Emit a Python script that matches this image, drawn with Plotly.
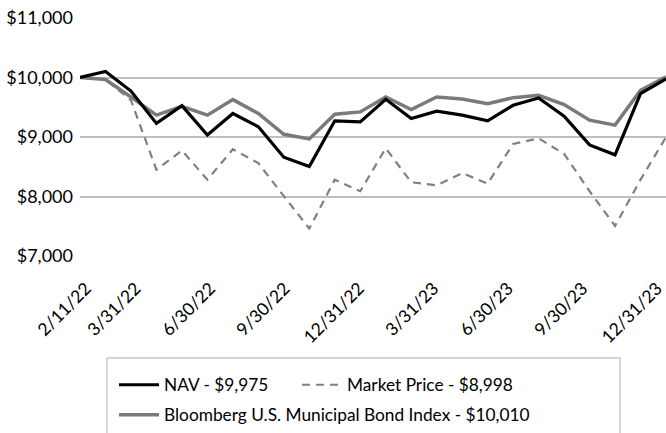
import plotly.graph_objects as go

dates = ["2/11/22", "2/28/22", "3/31/22", "4/30/22", "5/31/22", "6/30/22", "7/31/22",
         "8/31/22", "9/30/22", "10/31/22", "11/30/22", "12/31/22", "1/31/23", "2/28/23",
         "3/31/23", "4/30/23", "5/31/23", "6/30/23", "7/31/23", "8/31/23", "9/30/23",
         "10/31/23", "11/30/23", "12/31/23"]

nav = [10000, 10100, 9772, 9228, 9528, 9033, 9395, 9172, 8661, 8505, 9272, 9255,
       9633, 9311, 9433, 9367, 9272, 9533, 9655, 9350, 8867, 8700, 9728, 9975]

market = [10000, 9967, 9617, 8450, 8772, 8283, 8794, 8561, 8006, 7461, 8283, 8089,
          8811, 8239, 8189, 8394, 8217, 8883, 8978, 8717, 8089, 7506, 8283, 8998]

bloomberg = [10000, 9967, 9672, 9367, 9517, 9367, 9628, 9395, 9045, 8967, 9383, 9422,
             9672, 9461, 9672, 9639, 9561, 9661, 9700, 9544, 9283, 9200, 9783, 10010]

tick_labels = ["2/11/22", "3/31/22", "6/30/22", "9/30/22", "12/31/22", "3/31/23",
               "6/30/23", "9/30/23", "12/31/23"]

names = ["NAV - $9,975", "Market Price - $8,998", "Bloomberg U.S. Municipal Bond Index - $10,010"]

FONT = "Lato, Open Sans, sans-serif"

fig = go.Figure()
fig.add_trace(go.Scatter(x=dates, y=market, mode="lines", name=names[1],
                         line=dict(color="#808080", width=2.2, dash="8px,6px"),
                         legend="legend2", showlegend=True))
fig.add_trace(go.Scatter(x=dates, y=bloomberg, mode="lines", name=names[2],
                         line=dict(color="#7a7a7a", width=3.5),
                         legend="legend3", showlegend=True))
fig.add_trace(go.Scatter(x=dates, y=nav, mode="lines", name=names[0],
                         line=dict(color="#000000", width=3.2),
                         legend="legend", showlegend=True))
# empty helper trace so the label axis is rendered
fig.add_trace(go.Scatter(x=[], y=[], xaxis="x2", yaxis="y", showlegend=False,
                         hoverinfo="skip"))

W, H = 666, 433
ml, mr, mt, mb = 80, 0, 18, 177
pw = W - ml - mr
ph = H - mt - mb

def px_to_paper_x(px):
    return (px - ml) / pw

def py_to_paper_y(py):
    return (H - mb - py) / ph

leg_common = dict(orientation="h", xref="container", yref="container",
                  xanchor="left", yanchor="middle", bgcolor="rgba(0,0,0,0)",
                  borderwidth=0, itemwidth=40,
                  font=dict(family=FONT, size=17.3, color="#000000"))

label_idx = [dates.index(t) for t in tick_labels]

fig.update_layout(
    width=W, height=H,
    showlegend=True,
    margin=dict(l=ml, r=mr, t=mt, b=mb),
    paper_bgcolor="white", plot_bgcolor="white",
    font=dict(family=FONT, size=18, color="#000000"),
    legend=dict(x=114 / W, y=(H - 385) / H, **leg_common),
    legend2=dict(x=297 / W, y=(H - 385) / H, **leg_common),
    legend3=dict(x=114 / W, y=(H - 415) / H, **leg_common),
    xaxis=dict(type="category", range=[0, len(dates) - 1],
               showticklabels=False, showgrid=False, showline=False,
               zeroline=False, ticks="", automargin=False),
    xaxis2=dict(type="linear", overlaying="x", anchor="y", side="bottom",
                range=[-0.242, 23.36], tickmode="array",
                tickvals=label_idx, ticktext=tick_labels, tickangle=-45,
                showgrid=False, showline=False, zeroline=False, ticks="",
                automargin=False, ticklabelstandoff=18, ticklabeloverflow="allow",
                tickfont=dict(family=FONT, size=17.5, color="#000000")),
    yaxis=dict(range=[7000, 11000], dtick=1000, tick0=7000, tickprefix="$",
               tickformat=",.0f", showgrid=True, gridcolor="#bfbfbf", gridwidth=2,
               zeroline=False, showline=False, ticks="", automargin=False,
               ticklabelstandoff=6,
               tickfont=dict(family=FONT, size=18, color="#000000")),
    shapes=[dict(type="rect", xref="paper", yref="paper",
                 x0=px_to_paper_x(107), x1=px_to_paper_x(620),
                 y0=py_to_paper_y(358), y1=py_to_paper_y(460),
                 line=dict(color="#c8c8c8", width=1.5), fillcolor="rgba(0,0,0,0)",
                 layer="above")],
)

fig.write_html("out.html", config={"displayModeBar": False},
               post_script="document.body.style.margin='0';document.body.style.overflow='hidden';")
